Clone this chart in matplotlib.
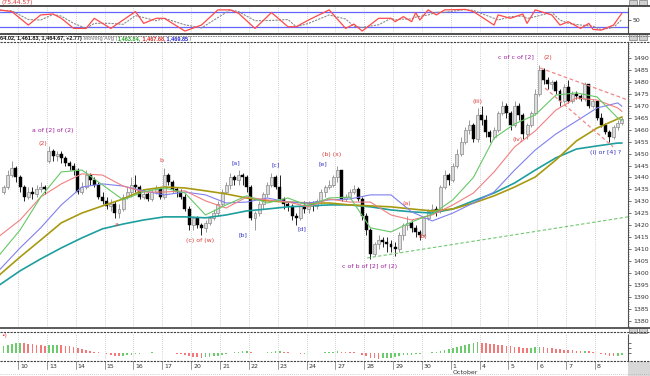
import numpy as np
import matplotlib
matplotlib.use("Agg")
import matplotlib.pyplot as plt
from matplotlib.lines import Line2D
from matplotlib.patches import Rectangle
from matplotlib.transforms import blended_transform_factory

# hourly bars, 7 per session; the first four bars are the end of Sep 9
day_labels = ["10", "13", "14", "15", "16", "17", "20", "21", "22", "23", "24",
              "27", "28", "29", "30", "1", "4", "5", "6", "7", "8"]
month_label = "October"
first_bar = -4
first_open = 1434
gap_bar, gap_open = 7, 1447

closes = [
    1436, 1441, 1444, 1440,
    1436, 1432, 1434, 1433, 1435, 1436, 1435,
    1451, 1449, 1450, 1448, 1446, 1445, 1443,
    1434, 1436, 1441, 1439, 1437, 1432, 1430,
    1428, 1429, 1425, 1427, 1432, 1434, 1437,
    1436, 1432, 1433, 1431, 1434, 1435, 1432,
    1441, 1438, 1435, 1434, 1432, 1427, 1420,
    1423, 1420, 1419, 1421, 1423, 1425, 1429,
    1434, 1437, 1440, 1439, 1441, 1440, 1436,
    1423, 1425, 1429, 1433, 1437, 1440, 1436,
    1431, 1429, 1428, 1424, 1423, 1428, 1427,
    1429, 1428, 1430, 1434, 1436, 1437, 1440,
    1443, 1431, 1432, 1434, 1435, 1431, 1424,
    1418, 1408, 1412, 1414, 1413, 1412, 1411,
    1410, 1416, 1420, 1421, 1419, 1417, 1416,
    1423, 1426, 1427, 1426, 1436, 1441, 1439,
    1445, 1450, 1455, 1460, 1462, 1456, 1466,
    1464, 1459, 1457, 1460, 1467, 1470, 1467,
    1462, 1470, 1466, 1458, 1462, 1467, 1475,
    1485, 1481, 1479, 1480, 1476, 1472, 1478,
    1472, 1475, 1474, 1473, 1479, 1470, 1472,
    1465, 1462, 1459, 1457, 1461, 1463, 1464.67,
]
highs = [
    1437, 1443, 1447, 1445,
    1441, 1437, 1436, 1436, 1437, 1438, 1437,
    1453, 1452, 1451, 1451, 1449, 1447, 1446,
    1444, 1438, 1443, 1442, 1440, 1438, 1434,
    1432, 1431, 1430, 1429, 1433, 1436, 1440,
    1441, 1437, 1435, 1434, 1435, 1437, 1436,
    1444, 1442, 1439, 1436, 1435, 1433, 1428,
    1424, 1424, 1421, 1422, 1424, 1427, 1430,
    1435, 1438, 1442, 1441, 1443, 1442, 1441,
    1437, 1426, 1430, 1434, 1438, 1442, 1441,
    1441, 1432, 1430, 1429, 1425, 1429, 1430,
    1430, 1430, 1431, 1435, 1437, 1439, 1441,
    1445, 1443, 1433, 1435, 1437, 1436, 1432,
    1425, 1419, 1413, 1416, 1415, 1415, 1414,
    1413, 1417, 1421, 1424, 1422, 1420, 1418,
    1424, 1427, 1429, 1428, 1437, 1443, 1442,
    1446, 1452, 1457, 1461, 1464, 1463, 1469,
    1470, 1466, 1460, 1461, 1468, 1472, 1471,
    1468, 1472, 1471, 1467, 1463, 1468, 1477,
    1487, 1486, 1482, 1481, 1481, 1477, 1479,
    1481, 1476, 1476, 1475, 1480, 1479, 1473,
    1472, 1467, 1463, 1460, 1462, 1464, 1465.5,
]
lows = [
    1433, 1435, 1440, 1438,
    1434, 1430, 1431, 1431, 1432, 1434, 1433,
    1446, 1447, 1447, 1446, 1445, 1443, 1441,
    1433, 1433, 1435, 1437, 1436, 1431, 1429,
    1427, 1426, 1423, 1423, 1426, 1431, 1432,
    1434, 1431, 1431, 1430, 1430, 1433, 1431,
    1431, 1437, 1434, 1432, 1431, 1426, 1418,
    1418, 1419, 1416, 1417, 1420, 1422, 1424,
    1428, 1433, 1435, 1437, 1437, 1437, 1434,
    1422, 1418, 1424, 1427, 1432, 1436, 1435,
    1430, 1427, 1426, 1422, 1420, 1422, 1425,
    1425, 1426, 1427, 1429, 1432, 1435, 1436,
    1438, 1430, 1430, 1431, 1433, 1430, 1422,
    1416, 1406, 1407, 1410, 1411, 1409, 1409,
    1407, 1409, 1414, 1418, 1417, 1415, 1414,
    1415, 1422, 1425, 1424, 1425, 1435, 1437,
    1438, 1444, 1449, 1454, 1458, 1455, 1455,
    1462, 1457, 1455, 1456, 1459, 1466, 1465,
    1460, 1461, 1464, 1456, 1456, 1461, 1466,
    1474, 1479, 1477, 1477, 1475, 1470, 1471,
    1471, 1471, 1473, 1472, 1472, 1469, 1469,
    1464, 1461, 1458, 1455, 1456, 1460, 1461.8,
]

# moving averages read every 5 bars
ma_bars = [-5, 0, 5, 10, 15, 20, 25, 30, 35, 40, 45, 50, 55, 60, 65, 70,
           75, 80, 85, 90, 95, 100, 105, 110, 115, 120, 125, 130, 135, 140, 145, 146]
ma_green = [1407.6, 1418, 1431.8, 1442.3, 1443.1, 1436.9, 1430.6, 1434, 1435.6, 1433.5,
            1424.3, 1428.5, 1432.3, 1429.3, 1431.4, 1428.1, 1431.4, 1431.8, 1418.9, 1417.2,
            1421.4, 1424.7, 1430.6, 1440, 1456.5, 1462.4, 1466.2, 1474.5, 1475.4, 1473.7,
            1464.9, 1463.84]
ma_red = [1415.5, 1422.2, 1431.8, 1437.3, 1441.5, 1441, 1436.4, 1433.9, 1433.9, 1434.4,
          1430.2, 1427.2, 1431.8, 1430.6, 1429.7, 1427.7, 1431, 1429.7, 1429.7, 1424.3,
          1422.2, 1424.3, 1428.5, 1433.5, 1442.3, 1452.8, 1459.5, 1468.2, 1473.3, 1472.4,
          1469.1, 1467.68]
ma_blue = [1401.3, 1410.5, 1418.9, 1428.5, 1436, 1437.3, 1436.4, 1434.4, 1432.7, 1433.9,
           1432.7, 1429.3, 1429.7, 1431.4, 1429.7, 1429.3, 1430.6, 1431, 1432.7, 1432.7,
           1425.6, 1421.8, 1425.1, 1429.3, 1433.9, 1443.1, 1451.5, 1458.2, 1463.6, 1469.1,
           1471.2, 1469.85]
ma_olive = [1399.2, 1406.7, 1413.8, 1421, 1425.1, 1428.1, 1431, 1434.8, 1436, 1435.6,
            1434.4, 1433.1, 1431.4, 1430.2, 1429.7, 1429.3, 1429.3, 1428.5, 1428.1, 1427.7,
            1426.8, 1426, 1426.8, 1429.3, 1432.3, 1436, 1440.2, 1447.3, 1455.3, 1460.7,
            1464.5, 1465.3]
ma_teal = [1395, 1400.9, 1405.9, 1410.5, 1414.7, 1418.5, 1420.5, 1422.2, 1423.5, 1423.5,
           1423.1, 1424.3, 1426, 1426.8, 1427.7, 1428.1, 1428.5, 1428.5, 1427.7, 1426.4,
           1425.6, 1425.1, 1426.8, 1430.2, 1433.5, 1437.7, 1443.1, 1448.2, 1451.9, 1453.2,
           1454.4, 1454.4]

# trend lines (bar, price) pairs
trend_support = ([84.2, 147.5], [1406.3, 1423.5])
trend_upper = ([126.2, 147.5], [1485.8, 1472.4])
trend_lower = ([127.4, 143.9], [1477.4, 1452.8])

# stochastic oscillator
osc_bars = [-5, -2, 2, 5, 8, 10, 13, 16, 18, 22, 25, 28, 30, 33, 35, 40, 44, 48, 51, 53,
            57, 61, 65, 67, 70, 75, 79, 81, 83, 87, 90, 91, 93, 95, 96, 97, 99, 101, 103, 108,
            110, 115, 116, 119, 122, 123, 125, 129, 131, 133, 136, 138, 139, 141, 144, 146]
osc_fast = [90, 83, 27, 69, 73, 55, 13, 13, 55, 13, 48, 83, 34, 55, 55, 2, 27, 90, 90, 76,
            13, 79, 20, 20, 48, 90, 13, 31, 2, 55, 55, 41, 62, 41, 79, 48, 90, 69, 90, 92,
            83, 27, 69, 55, 73, 34, 90, 69, 27, 41, 13, 34, 9, 6, 27, 76]
osc_slow = [88, 86, 50, 48, 71, 64, 34, 13, 34, 34, 30, 66, 58, 45, 55, 28, 15, 58, 90, 83,
            45, 46, 50, 20, 34, 69, 52, 22, 17, 28, 55, 48, 52, 52, 60, 63, 69, 80, 80, 91,
            88, 55, 48, 62, 64, 54, 62, 80, 48, 34, 27, 24, 22, 8, 17, 50]

# histogram, one value per bar
hist_vals = [
    7, 8, 9, 10,
    10.5, 10, 9.5, 9, 8.5, 8, 7.5,
    7.8, 8, 8.2, 7.8, 7.5, 7, 6.5,
    5.5, 4.5, 3, 2, 1.5, 1, 0.5,
    -0.5, -1.5, -2.5, -3, -2.5, -2, -1.5,
    -1, -0.5, 0, 0.5, 0.6, 0.4, 0.2,
    0.5, 0.3, 0, -0.5, -1, -2, -3,
    -3.5, -4, -4.5, -4, -3.5, -3, -2.5,
    -1.5, -0.5, 0.5, 1, 1.5, 2, 2,
    1.5, 0.5, 0, 0.5, 1, 1.5, 1.8,
    2, 1.5, 1, 0.5, 0, -0.5, -0.5,
    -0.3, 0, 0.3, 0.5, 0.8, 1, 1.5,
    1.8, 1.5, 1.3, 1, 0.8, 0, -1.5,
    -3, -4.5, -5, -5.5, -5, -4.5, -4.5,
    -4, -3, -2, -1.5, -1.5, -1, -0.5,
    0, 0.5, 1, 1.5, 2, 3, 4,
    5, 6, 7, 8, 9, 10, 11,
    10.5, 10, 9.5, 9, 8.5, 8, 7.5,
    7, 6.5, 6, 5.5, 5, 5.5, 6,
    6.5, 6, 5.5, 5, 4.5, 4, 3.5,
    3, 2.8, 2.5, 2.2, 2.5, 2, 1,
    0, -1, -2, -2.5, -3, -2.5, -2,
]

PURPLE, RED, BLUE = "#a020a0", "#e03c3c", "#3232c8"
wave_labels = [
    ("a of [2] of (2)", 8.0, 1459.5, PURPLE),
    ("(2)", 5.6, 1454.4, RED),
    ("b", 34.4, 1447.3, RED),
    ("a", 23.5, 1420.5, RED),
    ("(c) of (w)", 43.7, 1413.4, RED),
    ("[a]", 52.4, 1446.0, BLUE),
    ("[b]", 54.1, 1416.0, BLUE),
    ("[c]", 61.9, 1445.2, BLUE),
    ("[d]", 68.4, 1418.5, BLUE),
    ("[e]", 73.5, 1445.6, BLUE),
    ("(b) (x)", 75.6, 1449.4, RED),
    ("c of b of [2] of (2)", 84.9, 1402.6, PURPLE),
    ("(a)", 93.9, 1429.3, RED),
    ("(b)", 97.8, 1415.1, RED),
    ("(iii)", 110.9, 1471.6, RED),
    ("(iv)", 120.8, 1455.7, RED),
    ("c of c of [2]", 120.3, 1490.4, PURPLE),
    ("(2)", 128.1, 1490.4, RED),
    ("(i) or [4] ?", 142.0, 1450.3, BLUE),
]

# ---------------------------------------------------------------------------
W, H = 650, 376
PLOT_RIGHT = 628
XLIM = (-4.87, 147.5)

fig = plt.figure(figsize=(W / 100, H / 100), dpi=100)
fig.patch.set_facecolor("white")


def fy(ypix):
    return 1 - ypix / H


def box(top, bottom):
    return [0, fy(bottom), PLOT_RIGHT / W, (bottom - top) / H]


ax_osc = fig.add_axes(box(7, 33))
ax_main = fig.add_axes(box(42, 327))
ax_hist = fig.add_axes(box(334, 360))

closes = np.array(closes, dtype=float)
highs = np.array(highs, dtype=float)
lows = np.array(lows, dtype=float)
idx = np.arange(first_bar, first_bar + len(closes))
opens = np.r_[first_open, closes[:-1]]
opens[gap_bar - first_bar] = gap_open
day_bounds = [-0.5 + 7 * d for d in range(len(day_labels))]

for ax in (ax_osc, ax_main, ax_hist):
    ax.set_xlim(*XLIM)
    ax.set_xticks([])
    for side in ("left", "top", "bottom"):
        ax.spines[side].set_visible(False)
    ax.spines["right"].set_color("#505050")
    ax.spines["right"].set_linewidth(0.8)
    ax.spines["right"].set_linestyle((0, (2, 1)))
    ax.yaxis.tick_right()
    ax.tick_params(axis="y", labelsize=4.5, length=2, width=0.5, pad=1.5,
                   colors="#333333")
    for b in day_bounds:
        ax.axvline(b, color="#a8a8a8", lw=0.5, ls=(0, (1, 2)), zorder=0)

# oscillator
ax_osc.set_ylim(-6, 102)
ax_osc.axhline(80, color="#6464ff", lw=0.9, zorder=1)
ax_osc.axhline(20, color="#6464ff", lw=0.9, zorder=1)
ax_osc.plot(osc_bars, osc_slow, color="#8c8c8c", lw=0.8, ls=(0, (2, 1)), zorder=2)
ax_osc.plot(osc_bars, osc_fast, color="#ff4a4a", lw=0.9, zorder=3)
ax_osc.set_yticks([50])

# price panel
ax_main.set_ylim(1377.4, 1496.7)
up = closes >= opens
body_lo = np.minimum(opens, closes)
body_h = np.maximum(np.abs(closes - opens), 0.35)
ax_main.vlines(idx, lows, highs, colors=np.where(up, "#8a8a8a", "black"),
               lw=0.6, zorder=3)
ax_main.bar(idx[up], body_h[up], bottom=body_lo[up], width=0.72,
            color="#dcdcdc", edgecolor="#8a8a8a", lw=0.5, zorder=4)
ax_main.bar(idx[~up], body_h[~up], bottom=body_lo[~up], width=0.72,
            color="black", edgecolor="black", lw=0.3, zorder=4)

ax_main.plot(ma_bars, ma_teal, color="#1e9e9e", lw=1.2, zorder=5)
ax_main.plot(ma_bars, ma_olive, color="#a89a10", lw=1.2, zorder=5)
ax_main.plot(ma_bars, ma_blue, color="#8080ee", lw=0.8, zorder=5)
ax_main.plot(ma_bars, ma_red, color="#f08080", lw=0.8, zorder=5)
ax_main.plot(ma_bars, ma_green, color="#66c866", lw=0.8, zorder=5)

ax_main.plot(*trend_support, color="#70c870", lw=0.8, ls=(0, (3, 2)), zorder=5)
ax_main.plot(*trend_upper, color="#f08888", lw=0.9, ls=(0, (3, 2)), zorder=5)
ax_main.plot(*trend_lower, color="#f08888", lw=0.9, ls=(0, (3, 2)), zorder=5)

for text, bx, py, col in wave_labels:
    ax_main.text(bx, py, text, color=col, fontsize=4.5, ha="center", va="center",
                 zorder=6)

ax_main.set_yticks(np.arange(1380, 1491, 5))
ax_main.set_yticks(np.arange(1378, 1497), minor=True)
ax_main.tick_params(axis="y", which="minor", length=1, width=0.4, colors="#555555")

# histogram panel
hist_vals = np.array(hist_vals, dtype=float)
rising = np.r_[True, np.diff(hist_vals) >= 0]
ax_hist.set_ylim(-7, 19)
ax_hist.bar(idx, hist_vals, width=0.4,
            color=np.where(rising, "#6ccc6c", "#f47878"), zorder=2)
ax_hist.set_yticks([0, 5, 10])
ax_hist.set_yticklabels([])

# date strip under the histogram
trans = blended_transform_factory(ax_hist.transData, fig.transFigure)
for b, lab in zip(day_bounds, day_labels):
    fig.add_artist(Line2D([b, b], [fy(361), fy(369)], transform=trans,
                          color="#707070", lw=0.5))
    fig.text(b + 0.5, fy(366), lab, transform=trans, fontsize=4.5,
             color="#333333", ha="left", va="center")
oct_bound = day_bounds[day_labels.index("1")]
fig.text(oct_bound + 0.5, fy(372.5), month_label, transform=trans, fontsize=4.5,
         color="#333333", ha="left", va="center")

# frame lines between panels
def hline(ypix, **kw):
    fig.add_artist(Line2D([0, 1], [fy(ypix)] * 2, transform=fig.transFigure, **kw))


dark = "#404040"
hline(5.5, color=dark, lw=1.3)
hline(33.5, color=dark, lw=1.3)
hline(35.5, color="#707070", lw=0.6, ls=(0, (2, 1)))
hline(41.5, color=dark, lw=0.8, ls=(0, (2, 1)))
hline(327.5, color=dark, lw=1.2)
hline(331.5, color=dark, lw=0.8, ls=(0, (2, 1)))
hline(360.5, color=dark, lw=0.8, ls=(0, (2, 1)))
hline(374, color="#a0a0a0", lw=0.5, ls=(0, (1, 2)))

# small window buttons at the right of each panel
for ytop in (0, 34.5, 328):
    for xl in (629, 639):
        fig.patches.append(Rectangle((xl / W, fy(ytop + 5)), 8 / W, 5 / H,
                                     transform=fig.transFigure, facecolor="#d0d0d0",
                                     edgecolor="#606060", lw=0.4))
fig.patches.append(Rectangle((PLOT_RIGHT / W, 0), (W - PLOT_RIGHT) / W, 14 / H,
                             transform=fig.transFigure, facecolor="#d8d8d8",
                             edgecolor="none"))

# panel captions
fig.text(0.002, fy(2.6), "(75,44.57)", color="#e03030", fontsize=4.3,
         ha="left", va="center")
fig.text(0.002, fy(335.5), "\u2022)", color="#e03030", fontsize=4.3,
         ha="left", va="center")

header_parts = [
    ("64.02, 1,461.83, 1,464.67, +2.77)", "#111111"),
    (" Moving Avg (", "#9a9a9a"),
    (f"{ma_green[-1]:,.2f},", "#20a020"),
    (f" {ma_red[-1]:,.2f},", "#e02020"),
    (f" {ma_blue[-1]:,.2f}", "#2020d0"),
    (" )", "#9a9a9a"),
]
renderer = fig.canvas.get_renderer()
xpos = 0.0
for text, col in header_parts:
    t = fig.text(xpos, fy(38.2), text, color=col, fontsize=4.0, ha="left",
                 va="center", family="Liberation Sans", weight="bold")
    xpos += t.get_window_extent(renderer=renderer).width / W

fig.savefig("out.png", dpi=100)
